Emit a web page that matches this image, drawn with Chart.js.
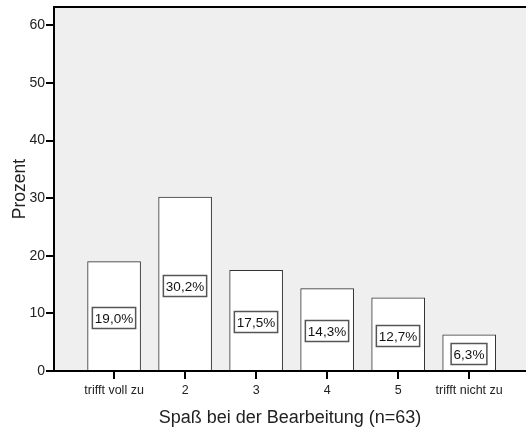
<!DOCTYPE html>
<html>
<head>
<meta charset="utf-8">
<script src="https://cdn.jsdelivr.net/npm/chart.js@4/dist/chart.umd.min.js"></script>
<style>
  body { margin: 0; background: #fff; }
</style>
</head>
<body>
<canvas id="diagrammeBalken" width="526" height="432"></canvas>
<script>
// Daten
var kategorien = ['trifft voll zu', '2', '3', '4', '5', 'trifft nicht zu'];
var prozente = [19.0, 30.2, 17.5, 14.3, 12.7, 6.3];
var yTicks = [0, 10, 20, 30, 40, 50, 60];

var punkte = prozente.map(function(p, i) {
  return { x: i, y: p };
});

function prozentText(v) {
  return v.toFixed(1).replace('.', ',') + '%';
}

var schrift = '"Liberation Sans", Arial, sans-serif';

// Hintergrund der Zeichenfläche + obere Linie
var hintergrund = {
  id: 'hintergrund',
  beforeDraw: function(chart) {
    var a = chart.chartArea;
    var ctx = chart.ctx;
    ctx.save();
    ctx.fillStyle = '#efefef';
    ctx.fillRect(a.left, a.top, a.right - a.left, a.bottom - a.top);
    ctx.restore();
  },
  afterDraw: function(chart) {
    var a = chart.chartArea;
    var ctx = chart.ctx;
    ctx.save();
    ctx.strokeStyle = '#000';
    ctx.lineWidth = 2;
    ctx.beginPath();
    ctx.moveTo(a.left, a.top);
    ctx.lineTo(a.right, a.top);
    ctx.stroke();
    ctx.restore();
  }
};

// Beschriftungen in den Balken
var etiketten = {
  id: 'etiketten',
  afterDatasetsDraw: function(chart) {
    var ctx = chart.ctx;
    var meta = chart.getDatasetMeta(0);
    ctx.save();
    ctx.font = '13.5px ' + schrift;
    ctx.textAlign = 'center';
    ctx.textBaseline = 'middle';
    meta.data.forEach(function(bar, i) {
      var txt = prozentText(prozente[i]);
      var w = ctx.measureText(txt).width + 5;
      var h = 21;
      var cx = Math.round(bar.x);
      var cy = Math.round((bar.y + bar.base) / 2 + 2);
      ctx.fillStyle = '#fff';
      ctx.fillRect(cx - w / 2, cy - h / 2, w, h);
      ctx.strokeStyle = '#555';
      ctx.lineWidth = 1.5;
      ctx.strokeRect(cx - w / 2, cy - h / 2, w, h);
      ctx.fillStyle = '#111';
      ctx.fillText(txt, cx, cy + 1);
    });
    ctx.restore();
  }
};

var ctx = document.getElementById('diagrammeBalken').getContext('2d');
var myBarChart = new Chart(ctx, {
  type: 'bar',
  data: {
    datasets: [{
      data: punkte,
      backgroundColor: '#ffffff',
      borderColor: '#333333',
      borderWidth: 1,
      barThickness: 53
    }]
  },
  options: {
    responsive: false,
    animation: false,
    layout: { padding: { top: 7, right: 0, left: 0, bottom: 0 } },
    plugins: {
      legend: { display: false },
      tooltip: { enabled: false }
    },
    scales: {
      x: {
        type: 'linear',
        min: -0.846,
        max: 5.8,
        offset: false,
        grid: { display: true, offset: false, drawOnChartArea: false, drawTicks: true, tickLength: 8, color: '#000', lineWidth: 2 },
        border: { display: true, color: '#000', width: 2 },
        afterBuildTicks: function(scale) {
          scale.ticks = kategorien.map(function(k, i) { return { value: i }; });
        },
        afterFit: function(scale) {
          scale.height = 61;
          scale.paddingLeft = 0;
          scale.paddingRight = 0;
        },
        ticks: {
          autoSkip: false,
          maxRotation: 0,
          padding: 4,
          color: '#222',
          font: { family: schrift, size: 12.5 },
          callback: function(v) { return kategorien[v]; }
        },
        title: {
          display: true,
          text: 'Spaß bei der Bearbeitung (n=63)',
          color: '#222',
          font: { family: schrift, size: 18 },
          padding: { top: 0, bottom: 3 }
        }
      },
      y: {
        min: 0,
        max: 63.2,
        grid: { display: true, drawOnChartArea: false, drawTicks: true, tickLength: 8, color: '#000', lineWidth: 2 },
        border: { display: true, color: '#000', width: 2 },
        afterBuildTicks: function(scale) {
          scale.ticks = yTicks.map(function(t) { return { value: t }; });
        },
        afterFit: function(scale) {
          scale.width = 54;
          scale.paddingTop = 0;
          scale.paddingBottom = 0;
        },
        ticks: {
          padding: 1,
          color: '#222',
          font: { family: schrift, size: 14 }
        },
        title: {
          display: true,
          text: 'Prozent',
          color: '#222',
          font: { family: schrift, size: 17.5 },
          padding: { top: 10, bottom: 0 }
        }
      }
    }
  },
  plugins: [hintergrund, etiketten]
});
</script>
</body>
</html>
